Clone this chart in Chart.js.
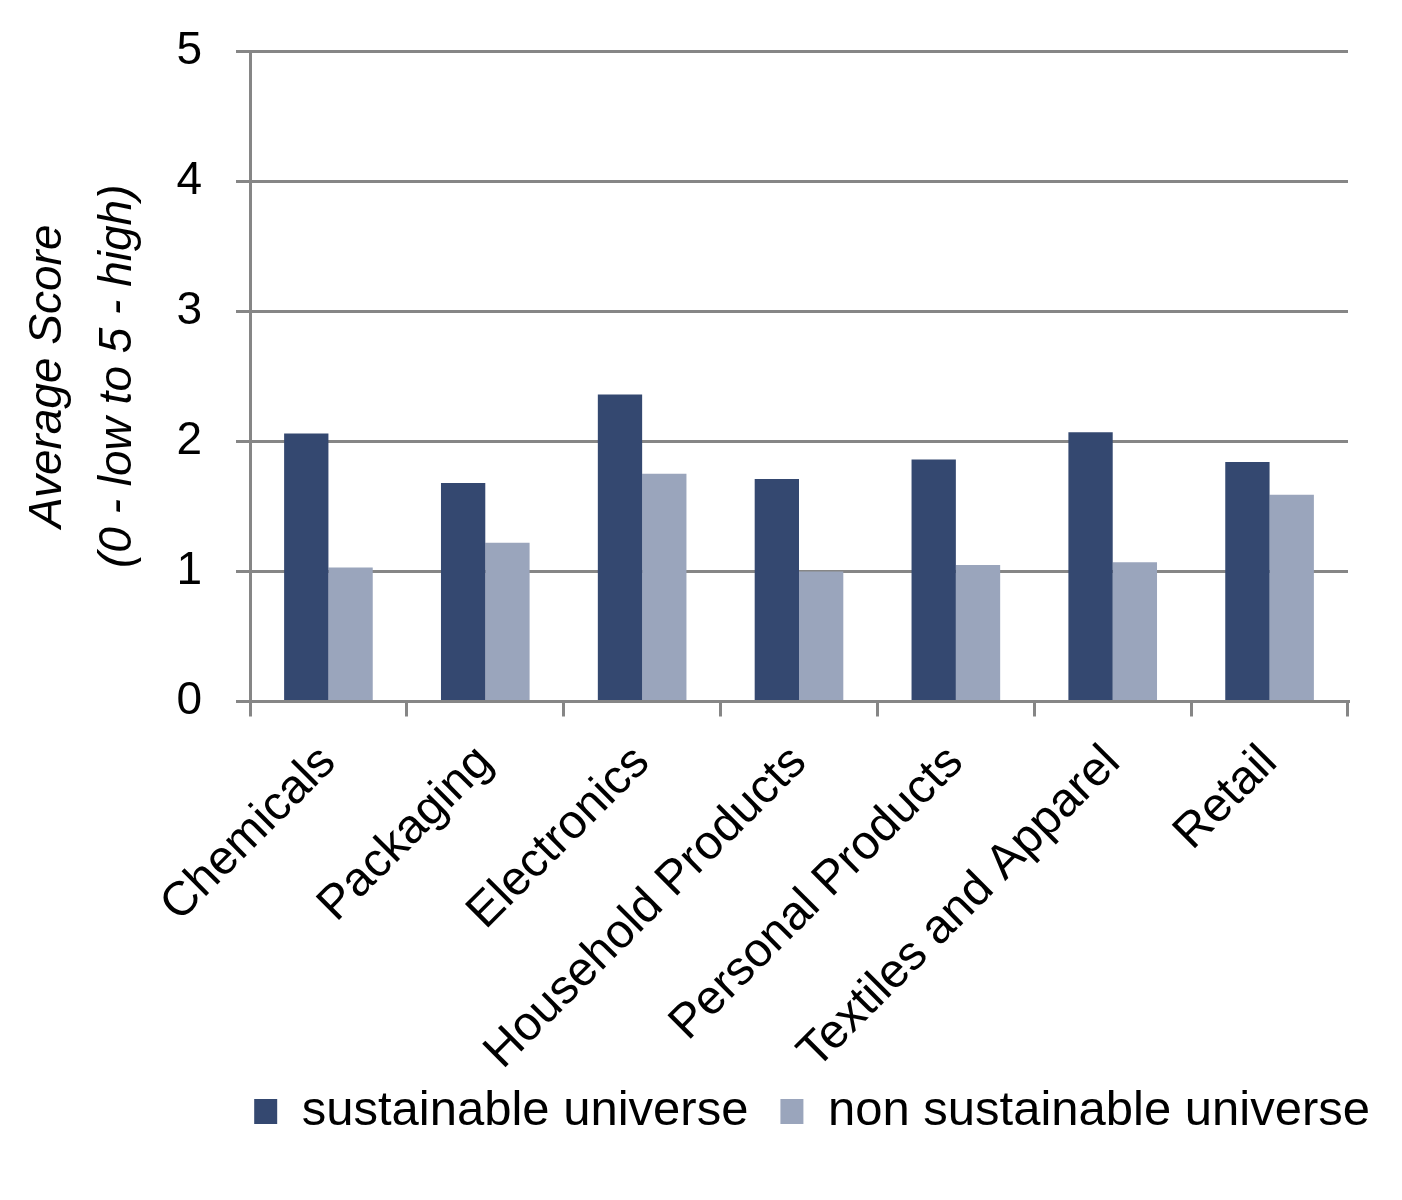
<!DOCTYPE html>
<html>
<head>
<meta charset="utf-8">
<script src="https://cdn.jsdelivr.net/npm/chart.js@4.4.1/dist/chart.umd.min.js"></script>
<style>
  html, body { margin: 0; padding: 0; background: #ffffff; }
  #wrap { position: relative; width: 1402px; height: 1200px; }
</style>
</head>
<body>
<div id="wrap"><canvas id="c"></canvas></div>
<script>
const categories = ["Chemicals", "Packaging", "Electronics", "Household Products", "Personal Products", "Textiles and Apparel", "Retail"];
const sustainable = [2.06, 1.68, 2.36, 1.71, 1.86, 2.07, 1.84];
const nonSustainable = [1.03, 1.22, 1.75, 1.00, 1.05, 1.07, 1.59];
const seriesNames = ["sustainable universe", "non sustainable universe"];
const yTitle = ["Average Score", "(0 - low to 5 - high)"];
const yTicks = [0, 1, 2, 3, 4, 5];

const FONT = '"Liberation Sans", Arial, Helvetica, sans-serif';
const GRID = '#868686';

new Chart(document.getElementById('c'), {
  type: 'bar',
  data: {
    labels: categories,
    datasets: [
      { label: seriesNames[0], data: sustainable, backgroundColor: '#344870', borderWidth: 0 },
      { label: seriesNames[1], data: nonSustainable, backgroundColor: '#9AA5BC', borderWidth: 0 }
    ]
  },
  options: {
    responsive: true,
    maintainAspectRatio: false,
    animation: false,
    devicePixelRatio: 1,
    layout: { padding: { left: 0, right: 0, top: 51, bottom: 54 } },
    datasets: { bar: { categoryPercentage: 0.565, barPercentage: 1.0 } },
    plugins: {
      tooltip: { enabled: false },
      legend: {
        position: 'bottom',
        align: 'end',
        labels: {
          boxWidth: 23,
          boxHeight: 25,
          padding: 32,
          color: '#000',
          font: { family: FONT, size: 49 }
        }
      }
    },
    scales: {
      x: {
        grid: { display: true, drawOnChartArea: false, drawTicks: true, tickLength: 15, color: GRID, lineWidth: 3, offset: true },
        border: { display: true, color: GRID, width: 3 },
        ticks: {
          color: '#000',
          font: { family: FONT, size: 48 },
          minRotation: 45,
          maxRotation: 45,
          autoSkip: false,
          padding: 18
        },
        afterFit: (s) => {
          s.height = 353.5;
          // let the long rotated labels run below the axis box without being clipped
          s._computeLabelArea = () => null;
        }
      },
      y: {
        min: 0,
        max: 5,
        afterBuildTicks: (s) => { s.ticks = yTicks.map(v => ({ value: v })); },
        grid: { color: GRID, lineWidth: 3, tickLength: 14, drawTicks: true },
        border: { display: true, color: GRID, width: 3 },
        ticks: {
          color: '#000',
          font: { family: FONT, size: 46 },
          padding: 34
        },
        title: {
          display: true,
          text: yTitle,
          color: '#000',
          font: { family: FONT, size: 46, style: 'italic', lineHeight: 1.52 },
          padding: { top: 13, bottom: 0 }
        },
        afterFit: (s) => { s.width = 250; s.paddingTop = 0; s.paddingBottom = 0; }
      },
      yRight: {
        type: 'linear',
        position: 'right',
        display: true,
        grid: { display: false, drawTicks: false },
        border: { display: false },
        ticks: { display: false },
        afterFit: (s) => { s.width = 54; s.paddingTop = 0; s.paddingBottom = 0; }
      }
    }
  }
});
</script>
</body>
</html>
